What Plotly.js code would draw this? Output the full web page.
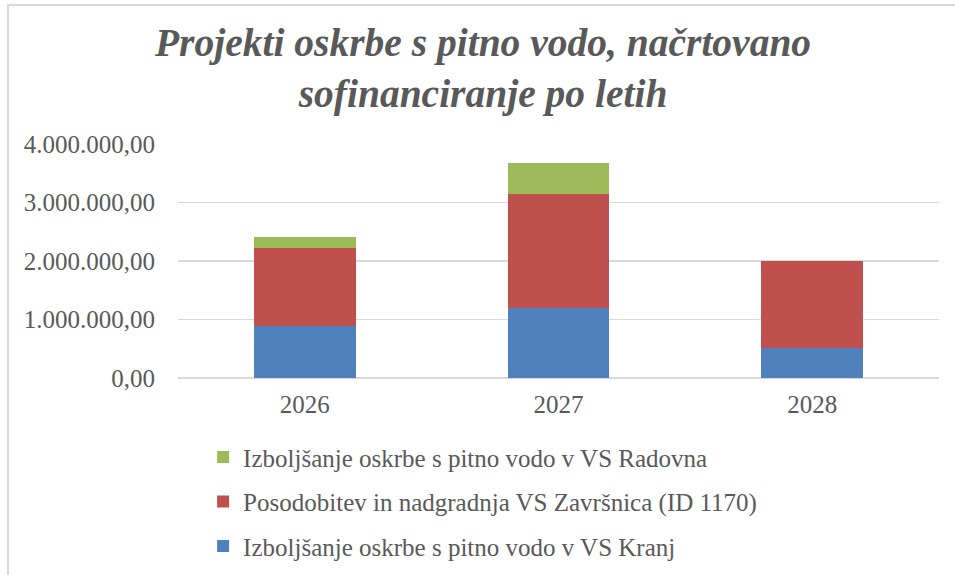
<!DOCTYPE html>
<html>
<head>
<meta charset="utf-8">
<script src="https://cdn.plot.ly/plotly-3.0.1.min.js"></script>
<style>html,body{margin:0;padding:0;background:#fff;}#chart{width:955px;height:575px;}</style>
</head>
<body>
<div id="chart"></div>
<script>
const years = ['2026', '2027', '2028'];
const seriesNames = [
  'Izboljšanje oskrbe s pitno vodo v VS Kranj',
  'Posodobitev in nadgradnja VS Završnica (ID 1170)',
  'Izboljšanje oskrbe s pitno vodo v VS Radovna'
];
const kranj = [890000, 1200000, 510000];
const zavrsnica = [1330000, 1950000, 1490000];
const radovna = [190000, 525000, 0];
const colors = ['#4f81bd', '#c0504d', '#9bbb59'];
const legendRanks = [3, 2, 1];
const yTicks = [0, 1000000, 2000000, 3000000, 4000000];

const seriesValues = [kranj, zavrsnica, radovna];
const data = seriesValues.map((vals, i) => ({
  type: 'bar',
  name: seriesNames[i],
  x: years,
  y: vals,
  marker: {color: colors[i]},
  legendgroup: 'g' + i,
  legendrank: legendRanks[i],
  hoverinfo: 'x+y+name'
}));

const font = 'Liberation Serif, Times New Roman, serif';
const layout = {
  width: 955,
  height: 575,
  paper_bgcolor: '#ffffff',
  plot_bgcolor: '#ffffff',
  separators: ',.',
  barmode: 'stack',
  bargap: 0.6,
  margin: {l: 178, r: 16, t: 144, b: 197, autoexpand: false},
  font: {family: font, size: 25, color: '#595959'},
  title: {
    text: '<b><i>Projekti oskrbe s pitno vodo, načrtovano<br>sofinanciranje po letih</i></b>',
    font: {family: font, size: 39.5, color: '#595959'},
    x: 0.5058,
    xanchor: 'center',
    xref: 'container',
    y: 0.903,
    yanchor: 'top',
    yref: 'container'
  },
  xaxis: {
    type: 'category',
    showgrid: false,
    zeroline: false,
    showline: false,
    ticks: '',
    tickfont: {family: font, size: 25, color: '#595959'},
    ticklabelstandoff: 9
  },
  yaxis: {
    range: [0, 4000000],
    tickvals: yTicks,
    tickformat: ',.2f',
    showgrid: true,
    gridcolor: '#d9d9d9',
    gridwidth: 1.5,
    zeroline: true,
    zerolinecolor: '#d9d9d9',
    zerolinewidth: 1.5,
    showline: false,
    ticks: '',
    tickfont: {family: font, size: 25, color: '#595959'},
    ticklabelstandoff: 22
  },
  showlegend: true,
  legend: {
    orientation: 'v',
    traceorder: 'grouped',
    tracegroupgap: 9,
    x: 0.033,
    xanchor: 'left',
    y: 0.245,
    yref: 'container',
    yanchor: 'top',
    bgcolor: 'rgba(0,0,0,0)',
    font: {family: font, size: 25, color: '#595959'}
  },
  shapes: [{
    type: 'rect',
    xref: 'paper', yref: 'paper',
    x0: -0.2234, x1: 1.2,
    y0: -1.5, y1: 1.594,
    line: {color: '#d9d9d9', width: 2},
    fillcolor: 'rgba(0,0,0,0)',
    layer: 'below'
  }]
};

Plotly.newPlot('chart', data, layout, {displayModeBar: false, staticPlot: true});
</script>
</body>
</html>
